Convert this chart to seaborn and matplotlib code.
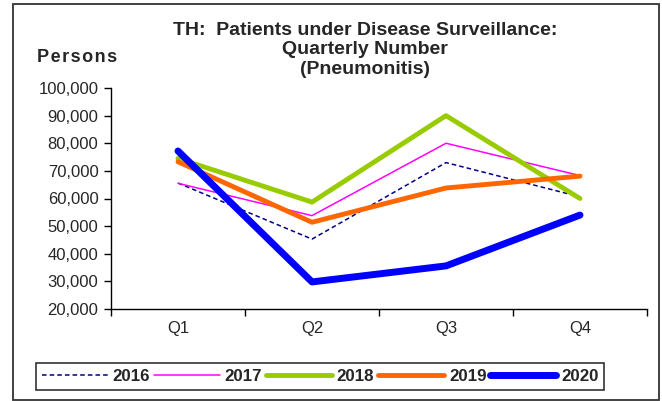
import numpy as np
import pandas as pd
import matplotlib
matplotlib.use("Agg")
import matplotlib.pyplot as plt
import seaborn as sns
from matplotlib.patches import Rectangle

# quarterly values (persons)
quarters = ["Q1", "Q2", "Q3", "Q4"]
years = ["2016", "2017", "2018", "2019", "2020"]
v2016 = [65600, 45300, 73000, 60600]
v2017 = [65500, 53800, 80000, 68300]
v2018 = [74500, 58700, 90000, 60000]
v2019 = [73300, 51400, 63800, 68100]
v2020 = [77200, 29800, 35600, 54000]

colors = ["#000080", "#FF00FF", "#99CC00", "#FF6600", "#0000FF"]
widths = [1.1, 1.1, 3.5, 3.5, 5.0]
styles = [(0, (3, 2)), "-", "-", "-", "-"]

df = pd.DataFrame({
    "x": list(range(4)) * 5,
    "value": v2016 + v2017 + v2018 + v2019 + v2020,
    "year": [y for y in years for _ in range(4)],
})

sns.set_style("white")
plt.rcParams["font.family"] = ["Liberation Sans", "DejaVu Sans"]

fig = plt.figure(figsize=(6.62, 4.01), dpi=100)
ax = fig.add_axes([111/662, 1-309/401, 536/662, 221/401])

for i, yr in enumerate(years):
    sub = df[df["year"] == yr]
    sns.lineplot(data=sub, x="x", y="value", ax=ax, color=colors[i],
                 linewidth=widths[i], linestyle=styles[i], label=yr,
                 solid_capstyle="round", legend=False)

ax.set_xlim(-0.5, 3.5)
ax.set_ylim(20000, 100000)
ax.set_yticks(np.arange(20000, 100001, 10000))
ax.set_yticklabels([f"{v:,}" for v in range(20000, 100001, 10000)], fontsize=12)
ax.set_xticks(np.arange(-0.5, 3.6, 1))
ax.set_xticklabels([])
ax.set_xticks(range(4), minor=True)
ax.set_xticklabels(quarters, minor=True, fontsize=12)
ax.tick_params(axis="x", which="minor", length=0, pad=9)
ax.tick_params(axis="both", which="major", direction="out", length=5, width=1, color="black", left=True, bottom=True)
ax.tick_params(axis="y", pad=4)
ax.set_xlabel("")
ax.set_ylabel("")
sns.despine(ax=ax)
for s in ["left", "bottom"]:
    ax.spines[s].set_color("black")
    ax.spines[s].set_linewidth(1)

fig.text(365/662, 1-50/401, "TH:  Patients under Disease Surveillance:\nQuarterly Number\n(Pneumonitis)",
         ha="center", va="center", fontsize=14, fontweight="bold", linespacing=1.2)
fig.text(77/662, 1-58/401, "P e r s o n s".replace(" ", "\u200a"), ha="center", va="center",
         fontsize=13, fontweight="bold")

handles, labels = ax.get_legend_handles_labels()
leg = fig.legend(handles, labels, loc="center", ncol=5,
                 bbox_to_anchor=(320/662, 1-376.5/401), frameon=True, fancybox=False,
                 edgecolor="black", handlelength=3.9, handletextpad=0.3,
                 columnspacing=0.2, borderpad=0.35, prop={"weight": "bold", "size": 12.2})
leg.get_frame().set_linewidth(1.2)

fig.patches.append(Rectangle((12.5/662, 0.002), (659-12.5)/662, 1-4/401-0.002,
                             transform=fig.transFigure, fill=False, edgecolor="#333333",
                             linewidth=1.3))

fig.savefig("out.png", dpi=100)
